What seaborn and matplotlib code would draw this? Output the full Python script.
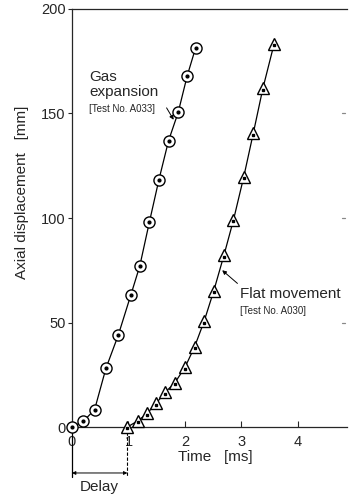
import matplotlib
matplotlib.use("Agg")
import matplotlib.pyplot as plt
import seaborn as sns
import pandas as pd

# Gas expansion [Test No. A033]
gas_time = [0.0, 0.2, 0.4, 0.6, 0.82, 1.04, 1.2, 1.37, 1.54, 1.71, 1.88, 2.04, 2.19]
gas_disp = [0, 2.7, 8.3, 28, 44, 63, 77, 98, 118.4, 137, 150.5, 168, 181.5]

# Flat movement [Test No. A030]
flat_time = [0.98, 1.17, 1.33, 1.49, 1.65, 1.82, 2.0, 2.17, 2.34, 2.51, 2.69,
             2.86, 3.04, 3.21, 3.38, 3.58]
flat_disp = [0, 3.0, 6.5, 11.3, 16.6, 21.1, 28.5, 38.3, 50.6, 65.1, 82.1,
             99.1, 119.5, 140.5, 162, 183.4]

delay = 0.98
x_ticks = [0, 1, 2, 3, 4]
y_ticks = [0, 50, 100, 150, 200]

sns.set_style("ticks")
plt.rcParams['font.family'] = ['Liberation Sans', 'DejaVu Sans']

fig = plt.figure(figsize=(3.5, 4.94), dpi=100)
ax = fig.add_axes([72 / 350, 1 - 427 / 494, 275 / 350, 418 / 494])

df_gas = pd.DataFrame({'t': gas_time, 'd': gas_disp})
df_flat = pd.DataFrame({'t': flat_time, 'd': flat_disp})

# lines with open markers
sns.lineplot(data=df_gas, x='t', y='d', ax=ax, color='black', lw=0.9, sort=False,
             marker='o', markersize=8, markerfacecolor='white',
             markeredgecolor='black', markeredgewidth=1.0, clip_on=False, zorder=3)
sns.lineplot(data=df_flat, x='t', y='d', ax=ax, color='black', lw=0.9, sort=False,
             marker='^', markersize=8, markerfacecolor='white',
             markeredgecolor='black', markeredgewidth=1.0, clip_on=False, zorder=3)
# the little dots in the middle of each marker
ax.plot(gas_time, gas_disp, ls='none', marker='o', ms=2, color='black',
        clip_on=False, zorder=5)
ax.plot(flat_time, [v - 0.6 for v in flat_disp], ls='none', marker='s', ms=1.8,
        color='black', clip_on=False, zorder=5)

ax.set_xlim(0, 4.87)
ax.set_ylim(0, 200)
ax.set_xticks(x_ticks)
ax.set_yticks(y_ticks)
ax.set_xlabel('')
ax.set_ylabel('')

ax.spines['right'].set_visible(False)
for s in ['left', 'bottom', 'top']:
    ax.spines[s].set_linewidth(0.9)
ax.tick_params(axis='x', direction='in', length=4, width=0.8, pad=6, labelsize=10.5)
ax.tick_params(axis='y', direction='out', length=3, width=0.8, pad=1.5, labelsize=10.5)

# faint little marks where the right frame used to be
for yv in y_ticks[1:4]:
    ax.plot([4.78, 4.84], [yv, yv], color='#888888', lw=0.9)

fig.text(22 / 350, 1 - 192 / 494, 'Axial displacement   [mm]', rotation=90,
         ha='center', va='center', fontsize=11)
fig.text(215 / 350, 1 - 457 / 494, 'Time   [ms]', ha='center', va='center', fontsize=11)

# curve labels
ax.text(0.30, 165.6, 'Gas', fontsize=11, va='baseline')
ax.text(0.30, 158.5, 'expansion', fontsize=11, va='baseline')
ax.text(0.30, 150.5, '[Test No. A033]', fontsize=7, va='baseline')
ax.annotate('', xy=(1.80, 147), xytext=(1.675, 152.7),
            arrowprops=dict(arrowstyle='-|>', color='black', lw=0.7,
                            mutation_scale=6, shrinkA=0, shrinkB=0))

ax.text(2.98, 61.6, 'Flat movement', fontsize=11, va='baseline')
ax.text(2.98, 54, '[Test No. A030]', fontsize=7, va='baseline')
ax.annotate('', xy=(2.66, 75), xytext=(2.93, 68.7),
            arrowprops=dict(arrowstyle='-|>', color='black', lw=0.7,
                            mutation_scale=6, shrinkA=0, shrinkB=0))

# delay marker below the axis
ax.plot([0, 0], [0, -24], color='black', lw=0.9, clip_on=False)
ax.plot([delay, delay], [0, -24], color='black', lw=0.8, ls=(0, (3, 1.5)), clip_on=False)
ax.annotate('', xy=(0, -22), xytext=(delay, -22), annotation_clip=False,
            arrowprops=dict(arrowstyle='<|-|>', color='black', lw=0.7,
                            mutation_scale=5, shrinkA=0, shrinkB=0))
ax.text(delay / 2, -28.5, 'Delay', fontsize=11, ha='center', va='center')

fig.savefig('out.png', dpi=100)
